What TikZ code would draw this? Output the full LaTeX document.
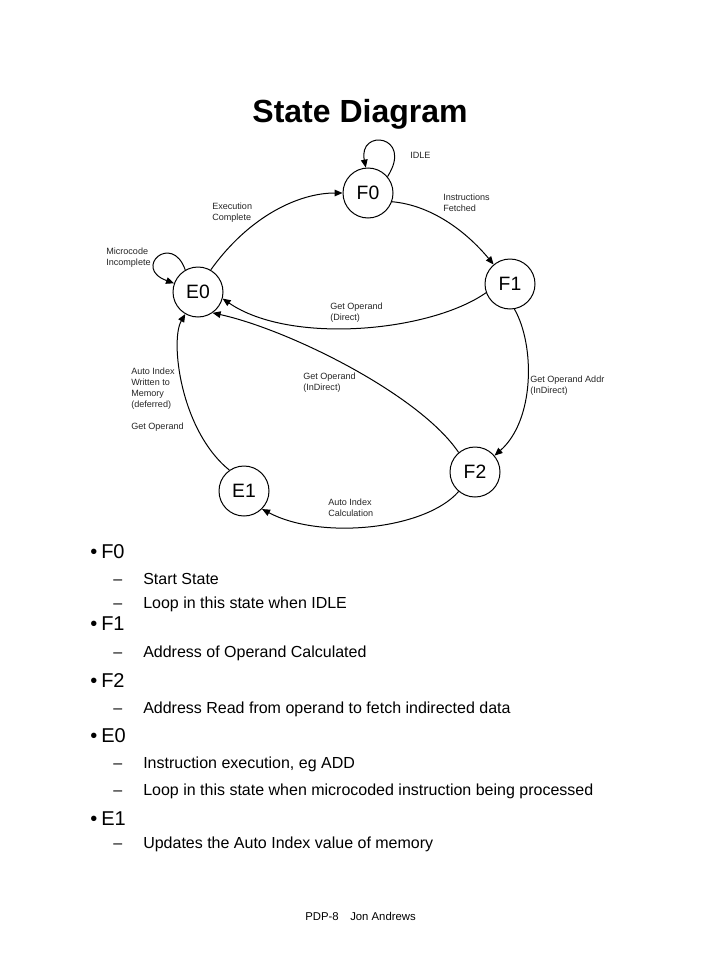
\documentclass[tikz,border=0pt]{standalone}
\usepackage{fontspec}
\setmainfont{Liberation Sans}
\usetikzlibrary{arrows.meta}
\begin{document}
\begin{tikzpicture}[x=0.75pt,y=-0.75pt,
 state/.style={circle,draw,line width=0.75pt,minimum size=37.5pt,inner sep=0pt,font=\fontsize{14.5}{16}\selectfont},
 lbl/.style={anchor=north west,inner sep=0pt,align=left,font=\fontsize{6.8}{8.25}\selectfont,text=black!85},
 edge/.style={draw,line width=0.75pt,-{Triangle[length=6pt,width=5pt]}},
 head/.style={anchor=base west,inner sep=0pt,font=\fontsize{15}{18}\selectfont},
 item/.style={anchor=base west,inner sep=0pt,font=\fontsize{12}{14}\selectfont},
 foot/.style={anchor=base west,inner sep=0pt,font=\fontsize{8.5}{10}\selectfont}]
\useasboundingbox (0,0) rectangle (720,960);

% title
\node[anchor=base,inner sep=0pt,font=\fontsize{24}{28}\selectfont\bfseries] (title) at (360,122) {State Diagram};

% states
\node[state] (F0) at (368,193) {F0};
\node[state] (F1) at (510,284) {F1};
\node[state] (E0) at (198,292) {E0};
\node[state] (F2) at (475,472) {F2};
\node[state] (E1) at (244,491) {E1};

% connectors
\draw[edge] (F0.40) .. controls (414,135) and (358,128) .. (F0.95);
\draw[edge] (E0.120) .. controls (172,232) and (132,268) .. (E0.160);
\draw[edge] (E0.60) .. controls (250,215) and (300,193) .. (F0.180);
\draw[edge] (F0.-20) .. controls (430,205) and (465,230) .. (F1.130);
\draw[edge] (F1.200) .. controls (430,332) and (290,345) .. (E0.-15);
\draw[edge] (F2.130) .. controls (420,395) and (290,330) .. (E0.-55);
\draw[edge] (F1.-80) .. controls (535,345) and (535,420) .. (F2.40);
\draw[edge] (F2.-130) .. controls (425,530) and (320,540) .. (E1.-45);
\draw[edge] (E1.125) .. controls (180,430) and (170,340) .. (E0.-120);

% labels
\node[lbl] (lIdle) at (410,151.5) {IDLE};
\node[lbl] (lFetch) at (443,193.5) {Instructions\\Fetched};
\node[lbl] (lExec) at (212,202.5) {Execution\\Complete};
\node[lbl] (lMicro) at (106,247.5) {Microcode\\Incomplete};
\node[lbl] (lDirect) at (330,302.5) {Get Operand\\(Direct)};
\node[lbl] (lIndir) at (303,372.5) {Get Operand\\(InDirect)};
\node[lbl] (lAddr) at (530,375.5) {Get Operand Addr\\(InDirect)};
\node[lbl] (lWrite) at (131,368) {Auto Index\\Written to\\Memory\\(deferred)};
\node[lbl] (lGet) at (131,422.5) {Get Operand};
\node[lbl] (lCalc) at (328,498.5) {Auto Index\\Calculation};

% bullet list
\node[head] (bF0) at (90,558) {•};
\node[head] (hF0) at (101,558) {F0};
\node[item] (d1) at (113,584) {–};
\node[item] (t1) at (143,584) {Start State};
\node[item] (d2) at (113,608) {–};
\node[item] (t2) at (143,608) {Loop in this state when IDLE};
\node[head] (bF1) at (90,630) {•};
\node[head] (hF1) at (101,630) {F1};
\node[item] (d3) at (113,657) {–};
\node[item] (t3) at (143,657) {Address of Operand Calculated};
\node[head] (bF2) at (90,687) {•};
\node[head] (hF2) at (101,687) {F2};
\node[item] (d4) at (113,713) {–};
\node[item] (t4) at (143,713) {Address Read from operand to fetch indirected data};
\node[head] (bE0) at (90,742) {•};
\node[head] (hE0) at (101,742) {E0};
\node[item] (d5) at (113,768) {–};
\node[item] (t5) at (143,768) {Instruction execution, eg ADD};
\node[item] (d6) at (113,795) {–};
\node[item] (t6) at (143,795) {Loop in this state when microcoded instruction being processed};
\node[head] (bE1) at (90,825) {•};
\node[head] (hE1) at (101,825) {E1};
\node[item] (d7) at (113,848) {–};
\node[item] (t7) at (143,848) {Updates the Auto Index value of memory};

% footer
\node[foot] (f1) at (305,920) {PDP-8};
\node[foot] (f2) at (350,920) {Jon Andrews};
\end{tikzpicture}
\end{document}
